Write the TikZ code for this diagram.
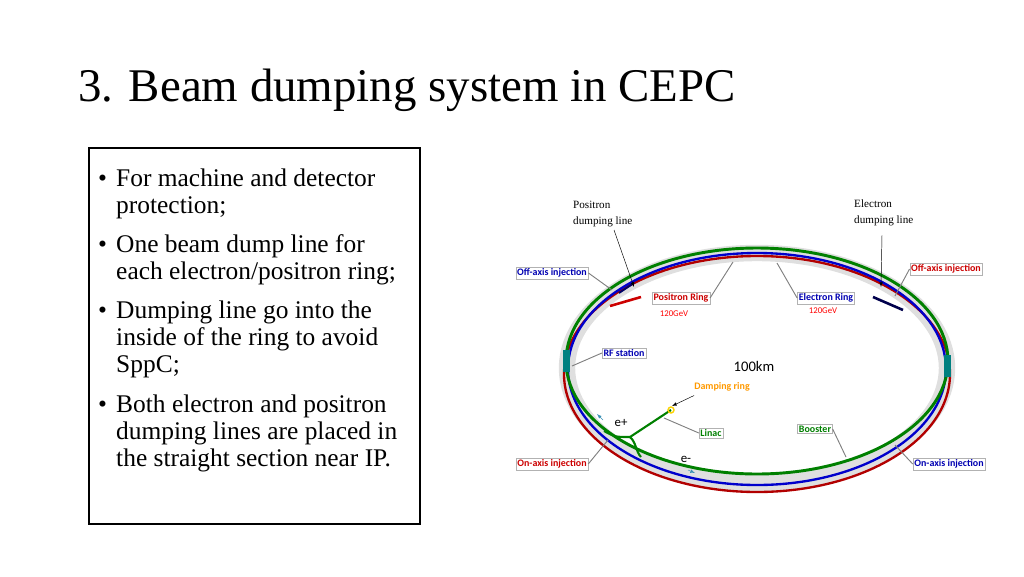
\documentclass[tikz,border=0pt]{standalone}
\usepackage{fontspec}
\setmainfont{Liberation Serif}
\newfontfamily\lab{Carlito}
\begin{document}
\begin{tikzpicture}[x=0.03cm,y=-0.03cm,
  bul/.style={anchor=base west,font=\fontsize{21.7}{23}\selectfont,inner sep=0},
  tag/.style={draw=gray!60,fill=white,font=\lab\bfseries\fontsize{8.5}{9}\selectfont,inner sep=1.2pt},
  lead/.style={gray,line width=0.8pt},
  dl/.style={anchor=north west,font=\fontsize{9.5}{13.5}\selectfont,inner sep=0,align=left}]
\useasboundingbox (0,0) rectangle (1024,576);
\node[anchor=base west,inner sep=0,font=\fontsize{40}{44}\selectfont] (title) at (78,101) {3. Beam dumping system in CEPC};
\draw[line width=1.2pt] (89,148) rectangle (420,524);
\foreach \yy in {186,252,318,412} \node[bul] at (98,\yy) {\textbullet};
\node[bul] (l1) at (116,186) {For machine and detector};
\node[bul] (l2) at (116,213) {protection;};
\node[bul] (l3) at (116,252) {One beam dump line for};
\node[bul] (l4) at (116,279) {each electron/positron ring;};
\node[bul] (l5) at (116,318) {Dumping line go into the};
\node[bul] (l6) at (116,345) {inside of the ring to avoid};
\node[bul] (l7) at (116,372) {SppC;};
\node[bul] (l8) at (116,412) {Both electron and positron};
\node[bul] (l9) at (116,439) {dumping lines are placed in};
\node[bul] (l10) at (116,466) {the straight section near IP.};
% halo
\draw[gray!25,line width=14pt] (757,368) ellipse (190 and 115);
% rings
\draw[red!70!black,line width=2pt] (757,374) ellipse (193 and 118);
\draw[blue!80!black,line width=2pt] (757,369) ellipse (189 and 116);
\draw[green!50!black,line width=2.5pt] (757,361) ellipse (191 and 113);
\fill[teal] (563,350) rectangle (570,372);
\fill[teal] (944,355) rectangle (951,377);
% dump lines
\draw[blue!40!black,line width=1.6pt] (619,293) -- (634,283);
\draw[red!80!black,line width=2.2pt] (610,306) -- (641,297);
\draw[blue!30!black,line width=2.2pt] (873,297) -- (903,310);
% linac
\coordinate (j) at (630,437);
\draw[green!50!black,line width=1.8pt] (604,431) .. controls (615,437) .. (j) -- (671,410);
\draw[green!50!black,line width=1.8pt] (j) .. controls (636,442) and (636,452) .. (641,457);
\draw[yellow!70!orange,line width=1.2pt] (671,410) circle (3);
\draw[-latex,cyan!70!black] (603,420) -- (597,414);
\draw[-latex,cyan!70!black] (688,470) -- (695,473);
% labels
\node[tag,text=blue!70!black] (oai1) at (552,273) {Off-axis injection};
\node[tag,text=red!80!black] (oai2) at (946,269) {Off-axis injection};
\node[tag,text=red!80!black] (pr) at (681,298) {Positron Ring};
\node[tag,text=blue!70!black] (er) at (826,298) {Electron Ring};
\node[tag,text=blue!70!black] (rf) at (624,353) {RF station};
\node[tag,text=green!50!black] (lin) at (711,433) {Linac};
\node[tag,text=green!50!black] (boo) at (815,429) {Booster};
\node[tag,text=red!80!black] (oni1) at (552,464) {On-axis injection};
\node[tag,text=blue!70!black] (oni2) at (949,464) {On-axis injection};
\node[font=\lab\fontsize{7.5}{8}\selectfont,text=red] (g1) at (674,314) {120GeV};
\node[font=\lab\fontsize{7.5}{8}\selectfont,text=red] (g2) at (823,311) {120GeV};
\node[font=\lab\fontsize{12.5}{14}\selectfont] (km) at (754,366) {100km};
\node[font=\lab\bfseries\fontsize{8.5}{9}\selectfont,text=orange!80!yellow] (dr) at (722,387) {Damping ring};
\node[font=\lab\fontsize{11}{12}\selectfont] (ep) at (621,423) {e+};
\node[font=\lab\fontsize{11}{12}\selectfont] (em) at (686,459) {e-};
\node[dl] (pdl) at (573,201) {Positron\\dumping line};
\node[dl] (edl) at (854,200) {Electron\\dumping line};
\draw[lead] (oai1.east) -- (612,290);
\draw[lead] (oai2.west) -- (895,296);
\draw[lead] (pr.east) -- (733,262);
\draw[lead] (er.west) -- (777,263);
\draw[lead] (rf.west) -- (572,366);
\draw[lead] (lin.west) -- (664,418);
\draw[lead] (boo.east) -- (846,457);
\draw[lead] (oni1.east) -- (608,440);
\draw[lead] (oni2.west) -- (895,445);
\draw[-latex,black] (dr.south west) ++(4,0) -- (672,406);
\draw[-latex,thin] (614,230) -- (634,287);
\draw[-latex,thin] (882,235) -- (881,287);
\end{tikzpicture}
\end{document}
